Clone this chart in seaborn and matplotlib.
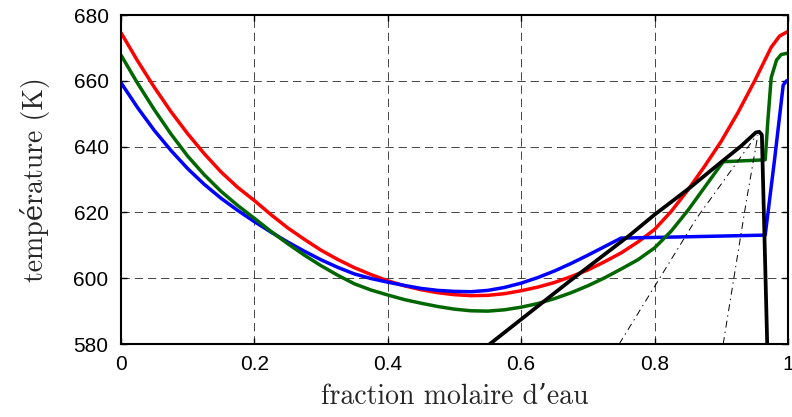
import numpy as np
import pandas as pd
import seaborn as sns
import matplotlib.pyplot as plt

# Points (x = fraction molaire d'eau, y = température en K)
red_x = [0.0, 0.025, 0.05, 0.075, 0.1, 0.125, 0.15, 0.175, 0.2, 0.225, 0.25, 0.275, 0.3, 0.325,
         0.35, 0.375, 0.4, 0.425, 0.45, 0.475, 0.5, 0.525, 0.55, 0.575, 0.6, 0.625, 0.65, 0.675,
         0.7, 0.725, 0.75, 0.775, 0.8, 0.825, 0.85, 0.875, 0.9, 0.925, 0.95, 0.975, 0.9875, 1.0]
red_y = [674.6, 666.0, 658.0, 650.6, 643.9, 637.8, 632.3, 627.6, 623.6, 619.3, 615.3, 611.8, 608.5, 605.7,
         603.2, 601.1, 599.2, 597.7, 596.5, 595.6, 595.0, 594.7, 594.8, 595.3, 596.2, 597.3, 598.7, 600.5,
         602.5, 605.0, 607.7, 611.0, 614.8, 620.3, 626.8, 634.0, 641.6, 650.3, 659.9, 670.2, 673.6, 675.0]

blue_x = [0.0, 0.025, 0.05, 0.075, 0.1, 0.125, 0.15, 0.175, 0.2, 0.225, 0.25, 0.275, 0.3, 0.325,
          0.35, 0.375, 0.4, 0.425, 0.45, 0.475, 0.5, 0.525, 0.55, 0.575, 0.6, 0.625, 0.65, 0.675,
          0.7, 0.725, 0.75, 0.85, 0.966, 0.98, 0.993, 0.998, 1.0]
blue_y = [659.4, 651.8, 644.9, 638.8, 633.3, 628.5, 624.3, 620.6, 617.2, 614.0, 611.0, 608.2, 605.6, 603.3,
          601.3, 599.9, 598.8, 597.8, 596.9, 596.3, 596.0, 595.9, 596.3, 597.2, 598.5, 600.2, 602.2, 604.5,
          607.0, 609.6, 612.2, 612.6, 613.1, 636.0, 658.7, 660.0, 660.0]

green_x = [0.0, 0.025, 0.05, 0.075, 0.1, 0.125, 0.15, 0.175, 0.2, 0.225, 0.25, 0.275, 0.3, 0.325,
           0.35, 0.375, 0.4, 0.425, 0.45, 0.475, 0.5, 0.525, 0.55, 0.575, 0.6, 0.625, 0.65, 0.675,
           0.7, 0.725, 0.75, 0.775, 0.8, 0.825, 0.85, 0.875, 0.9, 0.903, 0.966, 0.970, 0.975, 0.983, 0.99, 1.0]
green_y = [667.8, 659.2, 651.2, 643.8, 637.1, 631.4, 626.4, 622.1, 618.2, 614.2, 610.5, 607.0, 603.8, 600.9,
           598.3, 596.4, 594.9, 593.5, 592.4, 591.4, 590.6, 590.1, 590.0, 590.4, 591.2, 592.3, 593.8, 595.6,
           597.7, 600.1, 602.8, 605.6, 609.2, 614.3, 620.6, 627.6, 634.6, 635.4, 636.0, 648.0, 661.0, 666.3, 668.0, 668.4]

black_x = [0.553, 0.6, 0.672, 0.763, 0.8, 0.853, 0.9, 0.93, 0.945, 0.952, 0.957, 0.961, 0.969]
black_y = [580.0, 587.5, 599.0, 613.1, 619.3, 627.5, 635.3, 640.2, 643.0, 644.3, 644.5, 643.6, 580.0]

tie1_x = [0.747, 0.863, 0.883, 0.953]
tie1_y = [580.0, 618.2, 623.8, 643.5]
tie2_x = [0.903, 0.938, 0.955]
tie2_y = [580.0, 623.8, 643.5]

sns.set_theme(style='ticks', rc={
    'xtick.direction': 'in', 'ytick.direction': 'in',
    'xtick.top': True, 'ytick.right': True,
    'xtick.major.size': 4, 'ytick.major.size': 4,
    'xtick.major.width': 1.0, 'ytick.major.width': 1.0,
    'axes.linewidth': 1.5, 'axes.edgecolor': 'black',
    'lines.scale_dashes': False,
})
plt.rcParams['font.family'] = ['Liberation Sans', 'DejaVu Sans']

fig = plt.figure(figsize=(7.92, 4.17), dpi=100)
ax = fig.add_axes([0.1528, 0.175, 0.842, 0.789])

ax.grid(True, color='black', linestyle=(0, (6, 3.5)), linewidth=0.6, alpha=0.85)
ax.set_axisbelow(True)

curves = [
    (red_x, red_y, '#ff0000'),
    (blue_x, blue_y, '#0000ff'),
    (green_x, green_y, '#006600'),
]
for xs, ys, col in curves:
    sns.lineplot(x=xs, y=ys, ax=ax, color=col, linewidth=2.5, sort=False)

for xs, ys in [(tie1_x, tie1_y), (tie2_x, tie2_y)]:
    sns.lineplot(x=xs, y=ys, ax=ax, color='black', linewidth=0.7,
                 linestyle=(0, (5, 3, 1, 3)), sort=False)

sns.lineplot(x=black_x, y=black_y, ax=ax, color='black', linewidth=2.7, sort=False)

ax.set_xlim(0, 1)
ax.set_ylim(580, 680)
ax.set_xticks([0, 0.2, 0.4, 0.6, 0.8, 1.0])
ax.set_xticklabels(['0', '0.2', '0.4', '0.6', '0.8', '1'])
ax.set_yticks([580, 600, 620, 640, 660, 680])
ax.tick_params(axis='both', labelsize=15, colors='black')
ax.tick_params(axis='y', pad=9)
ax.tick_params(axis='x', pad=8)

serif = ['cmr10', 'DejaVu Serif']
ax.set_xlabel('fraction molaire d\u2019eau', fontsize=20, family=serif, labelpad=7)
ax.set_ylabel('température (K)', fontsize=20, family=serif, labelpad=17)

fig.savefig('out.png', dpi=100)
